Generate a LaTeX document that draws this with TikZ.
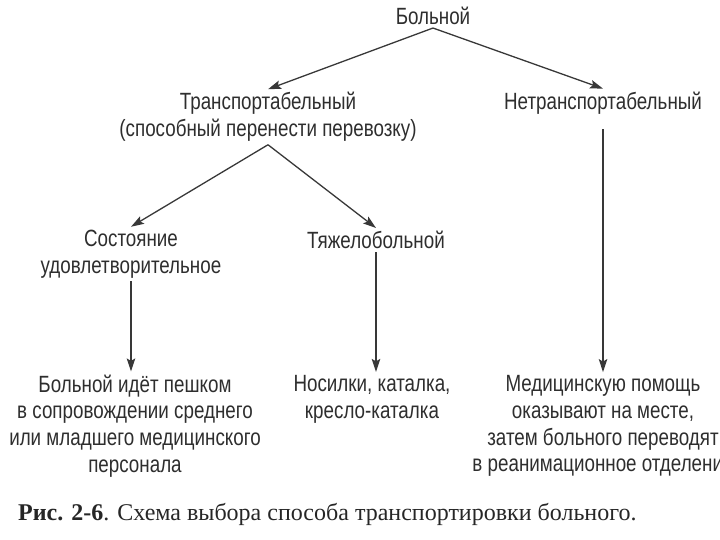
\documentclass[tikz,border=0pt]{standalone}
\usepackage{fontspec}
\setmainfont[FakeStretch=0.8]{Liberation Sans}
\newfontfamily\capfont{Liberation Serif}
\usetikzlibrary{arrows.meta}
\begin{document}
\begin{tikzpicture}[x=1pt,y=-1pt,
 lbl/.style={align=center, font=\fontsize{23.5}{26.8}\selectfont, text=black!82, inner sep=3pt},
 arr/.style={draw=black!78, line width=1.3pt, -{Stealth[length=13pt,width=8.5pt,inset=2.5pt]}}]
\useasboundingbox (0,0) rectangle (720,540);
\clip (0,0) rectangle (720,540);
\node[lbl] (bol) at (433,16) {Больной};
\node[lbl] (tr) at (268,117) {Транспортабельный\\(способный перенести перевозку)};
\node[lbl] (net) at (603,103) {Нетранспортабельный};
\node[lbl] (sost) at (131,254) {Состояние\\удовлетворительное};
\node[lbl] (tyazh) at (376,240) {Тяжелобольной};
\node[lbl] (bl) at (135,426) {Больной идёт пешком\\в сопровождении среднего\\или младшего медицинского\\персонала};
\node[lbl] (mid) at (372,399) {Носилки, каталка,\\кресло-каталка};
\node[lbl] (rt) at (603,426) {Медицинскую помощь\\оказывают на месте,\\затем больного переводят\\в реанимационное отделение};
\node[anchor=west, inner sep=0pt, font=\capfont\fontsize{24}{28}\selectfont, text=black!85] (cap) at (18,514) {\textbf{Рис. 2-6}. Схема выбора способа транспортировки больного.};
\draw[arr] (bol.south) -- (tr.north);
\draw[arr] (bol.south) -- (net.north);
\draw[arr] (tr.south) -- (sost.north);
\draw[arr] (tr.south) -- (tyazh.north);
\draw[arr] (sost.south) -- (sost.south |- bl.north);
\draw[arr] (tyazh.south) -- (tyazh.south |- mid.north);
\draw[arr, shorten <=12pt] (net.south) -- (net.south |- rt.north);
\end{tikzpicture}
\end{document}
